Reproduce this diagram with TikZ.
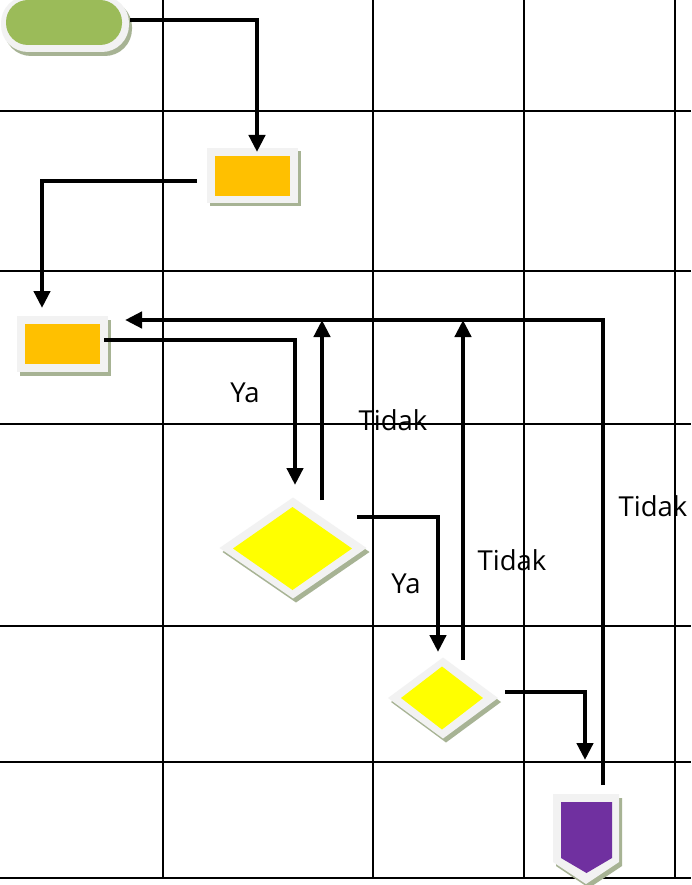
\documentclass[tikz,border=0pt]{standalone}
\usepackage{fontspec}
\setmainfont{Open Sans}
\usetikzlibrary{arrows.meta,shapes.geometric,calc}
\definecolor{shadec}{HTML}{A7B394}
\definecolor{borderc}{HTML}{F2F2F2}
\definecolor{greenc}{HTML}{9BBB59}
\definecolor{orangec}{HTML}{FFC000}
\definecolor{yellowc}{HTML}{FFFF00}
\definecolor{purplec}{HTML}{7030A0}
\tikzset{
  gridline/.style={line width=2.2pt,black},
  conn/.style={line width=4.6pt,black,-{Triangle[length=17pt,width=16pt]}},
  plainbox/.style={rectangle,inner sep=0pt,outer sep=0pt},
  dia/.style={diamond,inner sep=0pt,outer sep=0pt},
  lbl/.style={font=\fontsize{27.5}{32}\selectfont,inner sep=0pt,anchor=center}
}
\begin{document}
\begin{tikzpicture}[x=1pt,y=-1pt]
\useasboundingbox[fill=white] (0,0) rectangle (691,885);
% grid
\foreach \gx in {163,373,524,675} \draw[gridline] (\gx,0) -- (\gx,878);
\foreach \gy in {111,271,424,626,762,878} \draw[gridline] (0,\gy) -- (691,\gy);
% terminal
\node[plainbox,fill=shadec,rounded corners=27pt,minimum width=128pt,minimum height=56pt] at (68,28) {};
\node[plainbox,fill=borderc,rounded corners=27pt,minimum width=128pt,minimum height=56pt] (term) at (65,24) {};
\node[plainbox,fill=greenc,rounded corners=22pt,minimum width=116pt,minimum height=45pt] at (64,22.5) {};
% rect 1
\node[plainbox,fill=shadec,minimum width=91pt,minimum height=55pt] at (255.5,179) {};
\node[plainbox,fill=borderc,minimum width=91pt,minimum height=55pt] (r1) at (252.5,175.5) {};
\node[plainbox,fill=orangec,minimum width=75pt,minimum height=40pt] at (252.5,176) {};
% rect 2
\node[plainbox,fill=shadec,minimum width=91pt,minimum height=56pt] at (65.5,347.5) {};
\node[plainbox,fill=borderc,minimum width=91pt,minimum height=56pt] (r2) at (62.5,344) {};
\node[plainbox,fill=orangec,minimum width=75pt,minimum height=40pt] at (62.5,344) {};
% diamond 1
\node[dia,fill=shadec,minimum width=147pt,minimum height=101pt] at (296,552) {};
\node[dia,fill=borderc,minimum width=147pt,minimum height=101pt] (d1) at (293,548) {};
\node[dia,fill=yellowc,minimum width=119pt,minimum height=83pt] at (292.5,548.5) {};
% diamond 2
\node[dia,fill=shadec,minimum width=110pt,minimum height=81pt] at (446,702) {};
\node[dia,fill=borderc,minimum width=110pt,minimum height=81pt] (d2) at (443,698) {};
\node[dia,fill=yellowc,minimum width=82pt,minimum height=63pt] at (442,698) {};
% pentagon (off-page connector)
\node[plainbox,minimum width=66pt,minimum height=68pt] (pv) at (586,828) {};
\fill[shadec] (556,798) -- (622,798) -- (622,866) -- (589,888) -- (556,866) -- cycle;
\fill[borderc] (553,794) -- (619,794) -- (619,862) -- (586,884) -- (553,862) -- cycle;
\fill[purplec] (561,802) -- (612,802) -- (612,858) -- (586.5,873) -- (561,858) -- cycle;
% connectors
\draw[conn] ([xshift=1pt,yshift=4pt]term.east) -| ([xshift=4.5pt,yshift=-4pt]r1.north);
\draw[conn] ([xshift=-10pt,yshift=-5.5pt]r1.west) -| ([xshift=-20.5pt,yshift=8pt]r2.north);
\draw[conn] ([xshift=-4pt,yshift=4pt]r2.east) -| ([xshift=2pt,yshift=12.5pt]d1.north);
\coordinate (c8s) at ([xshift=17pt,yshift=9pt]pv.north);
\coordinate (c8e) at ([xshift=17pt,yshift=24pt]r2.east);
\draw[conn] (c8s) |- (c8e);
\coordinate (c4) at ([xshift=29pt,yshift=-2.5pt]d1.north);
\draw[conn] (c4) -- (c4 |- c8e);
\draw[conn] ([xshift=-9.5pt,yshift=31pt]d1.east) -| ([xshift=-5pt,yshift=5.5pt]d2.north);
\coordinate (c6) at ([xshift=20pt,yshift=-2.5pt]d2.north);
\draw[conn] (c6) -- (c6 |- c8e);
\draw[conn] ([xshift=7pt,yshift=6pt]d2.east) -| ([xshift=-1pt,yshift=34pt]pv.north);
% labels
\node[lbl] (ya1) at (245,393) {Ya};
\node[lbl] (td1) at (393,420) {Tidak};
\node[lbl] (ya2) at (406,584) {Ya};
\node[lbl] (td2) at (512,560) {Tidak};
\node[lbl] (td3) at (653,506) {Tidak};
\end{tikzpicture}
\end{document}
